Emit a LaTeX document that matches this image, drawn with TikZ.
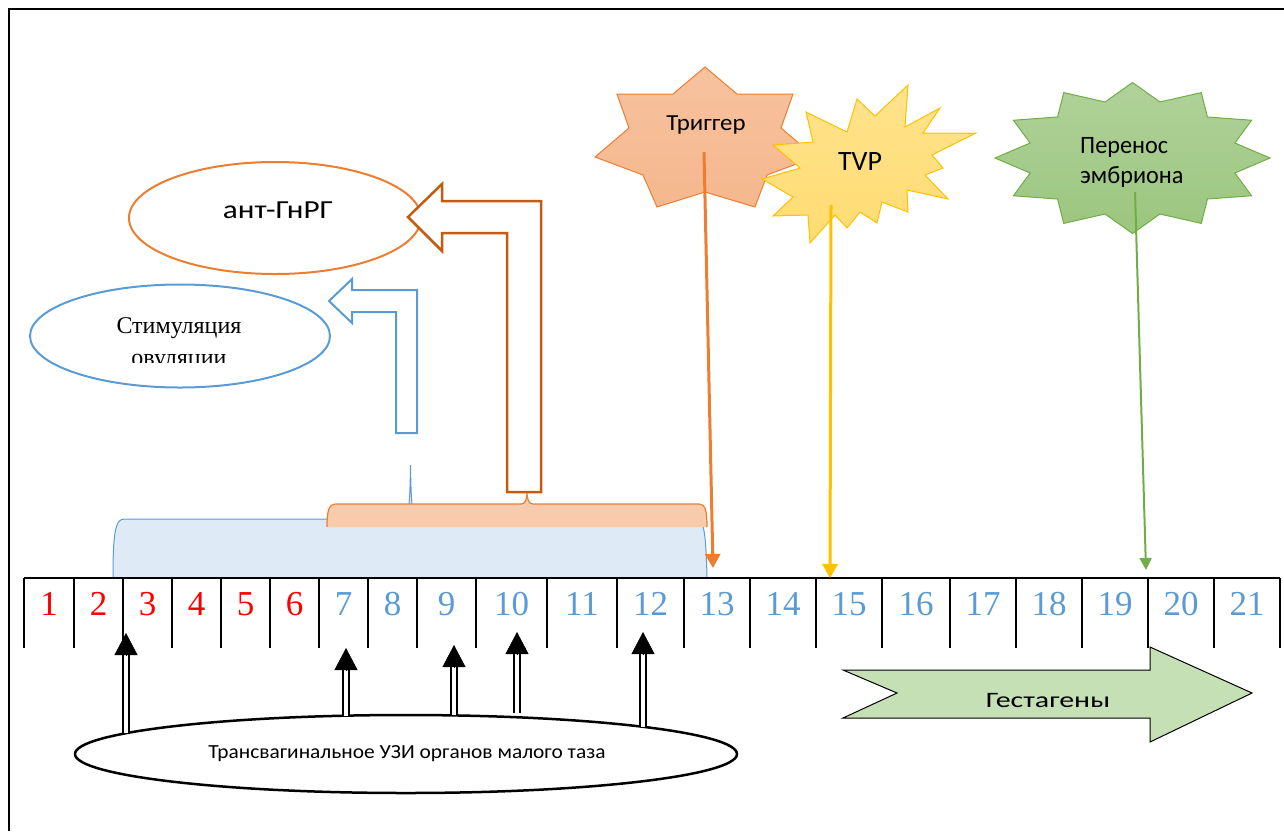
\documentclass[tikz,border=0pt]{standalone}
\usepackage{fontspec}
\setmainfont{Liberation Serif}
\newfontfamily\calibri{Carlito}
\usetikzlibrary{arrows.meta, shapes.geometric}
\definecolor{msblue}{HTML}{5B9BD5}
\definecolor{msorange}{HTML}{ED7D31}
\definecolor{msdarkorange}{HTML}{C55A11}
\definecolor{msyellow}{HTML}{FFC000}
\definecolor{msgreen}{HTML}{70AD47}
\definecolor{lightblue}{HTML}{DEEBF7}
\definecolor{lightorange}{HTML}{F8CBAD}
\definecolor{lightgreen}{HTML}{C5E0B4}

\begin{document}
\begin{tikzpicture}[x=1pt, y=-1pt,
  num/.style={anchor=base, font=\fontsize{35}{35}\selectfont},
  cellline/.style={line width=1.6pt},
  sans/.style 2 args={font=\calibri\addfontfeature{FakeStretch=#2}\fontsize{#1}{30}\selectfont},
  usshaft/.style={double, double distance=3.5pt, line width=2pt, shorten >=18pt},
  ushead/.style={-{Triangle[width=23pt,length=22pt]}, line width=0.5pt}]
\useasboundingbox (0,0) rectangle (1284,831);
% frame
\draw[line width=2pt] (9,831) -- (9,9) -- (1284,9);

% hormone curves
\draw[msblue, line width=1pt, fill=lightblue] (113,578) .. controls (113,535) and (115,519) .. (124,519) -- (697,519) .. controls (704,519) and (706,535) .. (707,578);
\draw[msblue, line width=1pt, fill=lightblue] (405,519) .. controls (409,514) and (410,500) .. (410.5,465) .. controls (411,500) and (412,514) .. (416,519);
\draw[msorange, line width=1.2pt, fill=lightorange] (327,527) .. controls (327,510) and (329,504) .. (336,504) -- (521,504) .. controls (525,504) and (527,500) .. (527,492) .. controls (527,500) and (529,504) .. (533,504) -- (699,504) .. controls (705,504) and (707,510) .. (707,527);

% timeline
\draw[cellline] (24,578) -- (1280,578);
\foreach \x in {24,74,123,172,221,270,319,368,417,476,547,617,684,750,816,882,950,1016,1082,1148,1214,1280}
  \draw[cellline] (\x,578) -- (\x,648);
\node[num, red] (c1) at (49,615) {1};
\node[num, red] (c2) at (98.5,615) {2};
\node[num, red] (c3) at (147.5,615) {3};
\node[num, red] (c4) at (196.5,615) {4};
\node[num, red] (c5) at (245.5,615) {5};
\node[num, red] (c6) at (294.5,615) {6};
\node[num, msblue] (c7) at (343.5,615) {7};
\node[num, msblue] (c8) at (392.5,615) {8};
\node[num, msblue] (c9) at (446.5,615) {9};
\node[num, msblue] (c10) at (511.5,615) {10};
\node[num, msblue] (c11) at (582,615) {11};
\node[num, msblue] (c12) at (650.5,615) {12};
\node[num, msblue] (c13) at (717,615) {13};
\node[num, msblue] (c14) at (783,615) {14};
\node[num, msblue] (c15) at (849,615) {15};
\node[num, msblue] (c16) at (916,615) {16};
\node[num, msblue] (c17) at (983,615) {17};
\node[num, msblue] (c18) at (1049,615) {18};
\node[num, msblue] (c19) at (1115,615) {19};
\node[num, msblue] (c20) at (1181,615) {20};
\node[num, msblue] (c21) at (1247,615) {21};

% ant-GnRH and stimulation
\node[draw=msorange, line width=2pt, ellipse, minimum width=292pt, minimum height=112pt, inner sep=0pt] (gnrg) at (275,218) {};
\node[sans={26}{1.2}, anchor=base] (gnrgtxt) at (278,218) {ант-ГнРГ};
\draw[msdarkorange, line width=2.5pt, fill=white] (507,492) -- (507,233) -- (442,233) -- (442,251) -- (408,217) -- (442,184) -- (442,201) -- (541,201) -- (541,492) -- cycle;
\node[draw=msblue, line width=2pt, ellipse, minimum width=300pt, minimum height=103pt, inner sep=0pt] (stim) at (180,336) {};
\begin{scope}
\clip (30,280) rectangle (330,362);
\node[anchor=base, align=center, font=\fontsize{24}{32}\selectfont] (stimtxt) at (179,365) {Стимуляция\\овуляции};
\end{scope}
\draw[msblue, line width=2pt, fill=white] (396,433) -- (396,312) -- (352,312) -- (352,323) -- (329,301) -- (352,279) -- (352,290) -- (417,290) -- (417,433) -- cycle;

% events
\draw[msorange, line width=1pt, top color=lightorange!80!msorange!90, bottom color=msorange!55] (705,67) -- (737,94) -- (793,94) -- (781,128) -- (815,157) -- (767,175) -- (755,207) -- (705,192) -- (657,207) -- (643,175) -- (595,157) -- (629,128) -- (617,94) -- (673,94) -- cycle;
\node[sans={23}{1.08}, anchor=base] (trig) at (706,130) {Триггер};
\draw[msyellow, line width=1pt, top color=msyellow!45, bottom color=msyellow!55] (806,112) -- (847,132) -- (857,99) -- (875,116) -- (908,85) -- (905,127) -- (940,108) -- (923,133) -- (976,133) -- (932,155) -- (943,168) -- (925,175) -- (948,199) -- (907,190) -- (908,212) -- (882,202) -- (877,223) -- (860,212) -- (847,228) -- (835,215) -- (810,243) -- (808,215) -- (773,216) -- (793,197) -- (762,179) -- (800,168) -- (773,145) -- (813,142) -- cycle;
\node[sans={28}{1}, anchor=base] (tvp) at (860,170) {TVP};
\coordinate (embc) at (1132.5,158);
\draw[msgreen, line width=1pt, top color=msgreen!55, bottom color=msgreen!70] (embc) +(90:137.5 and 75.5) -- +(75:106 and 58) -- +(60:137.5 and 75.5) -- +(45:106 and 58) -- +(30:137.5 and 75.5) -- +(15:106 and 58) -- +(0:137.5 and 75.5) -- +(-15:106 and 58) -- +(-30:137.5 and 75.5) -- +(-45:106 and 58) -- +(-60:137.5 and 75.5) -- +(-75:106 and 58) -- +(-90:137.5 and 75.5) -- +(-105:106 and 58) -- +(-120:137.5 and 75.5) -- +(-135:106 and 58) -- +(-150:137.5 and 75.5) -- +(-165:106 and 58) -- +(180:137.5 and 75.5) -- +(165:106 and 58) -- +(150:137.5 and 75.5) -- +(135:106 and 58) -- +(120:137.5 and 75.5) -- +(105:106 and 58) -- cycle;
\node[sans={25}{0.97}, anchor=base west, align=left, inner sep=0pt] (embr) at (1080,183) {Перенос\\эмбриона};

\coordinate (trigstart) at (704,152);
\coordinate (trigend) at (713,568);
\coordinate (tvpstart) at (831,205);
\coordinate (tvpend) at (830,578);
\coordinate (embrstart) at (1135,192);
\coordinate (embrend) at (1146,570);
\draw[msorange, line width=3pt, -{Triangle[width=15pt,length=14pt]}] (trigstart) -- (trigend);
\draw[msyellow, line width=3pt, -{Triangle[width=15pt,length=14pt]}] (tvpstart) -- (tvpend);
\draw[msgreen, line width=2pt, -{Triangle[width=12pt,length=12pt]}] (embrstart) -- (embrend);

% gestagens
\draw[line width=1pt, fill=lightgreen] (843,670) -- (1150,670) -- (1150,647) -- (1252,693) -- (1150,742) -- (1150,718) -- (843,718) -- (897,693) -- cycle;
\node[sans={22}{1.36}, anchor=base] (gest) at (1048,707) {Гестагены};

% ultrasound
\node[draw, line width=2.5pt, ellipse, minimum width=662pt, minimum height=78pt, inner sep=0pt] (uzi) at (406,754) {};
\node[sans={20}{1.07}, anchor=base] (uzitxt) at (407,758) {Трансвагинальное УЗИ органов малого таза};
\coordinate (us1) at (126,633);
\coordinate (us1foot) at (126,733);
\coordinate (us2) at (346,648);
\coordinate (us2foot) at (346,716);
\coordinate (us3) at (454,645);
\coordinate (us3foot) at (454,715);
\coordinate (us4) at (517,632);
\coordinate (us4foot) at (517,713);
\coordinate (us5) at (643,632);
\coordinate (us5foot) at (643,727);
\draw[usshaft] (us1foot) -- (us1);
\draw[usshaft] (us2foot) -- (us2);
\draw[usshaft] (us3foot) -- (us3);
\draw[usshaft] (us4foot) -- (us4);
\draw[usshaft] (us5foot) -- (us5);
\draw[ushead] ([yshift=-22pt]us1) -- (us1);
\draw[ushead] ([yshift=-22pt]us2) -- (us2);
\draw[ushead] ([yshift=-22pt]us3) -- (us3);
\draw[ushead] ([yshift=-22pt]us4) -- (us4);
\draw[ushead] ([yshift=-22pt]us5) -- (us5);
\end{tikzpicture}
\end{document}
